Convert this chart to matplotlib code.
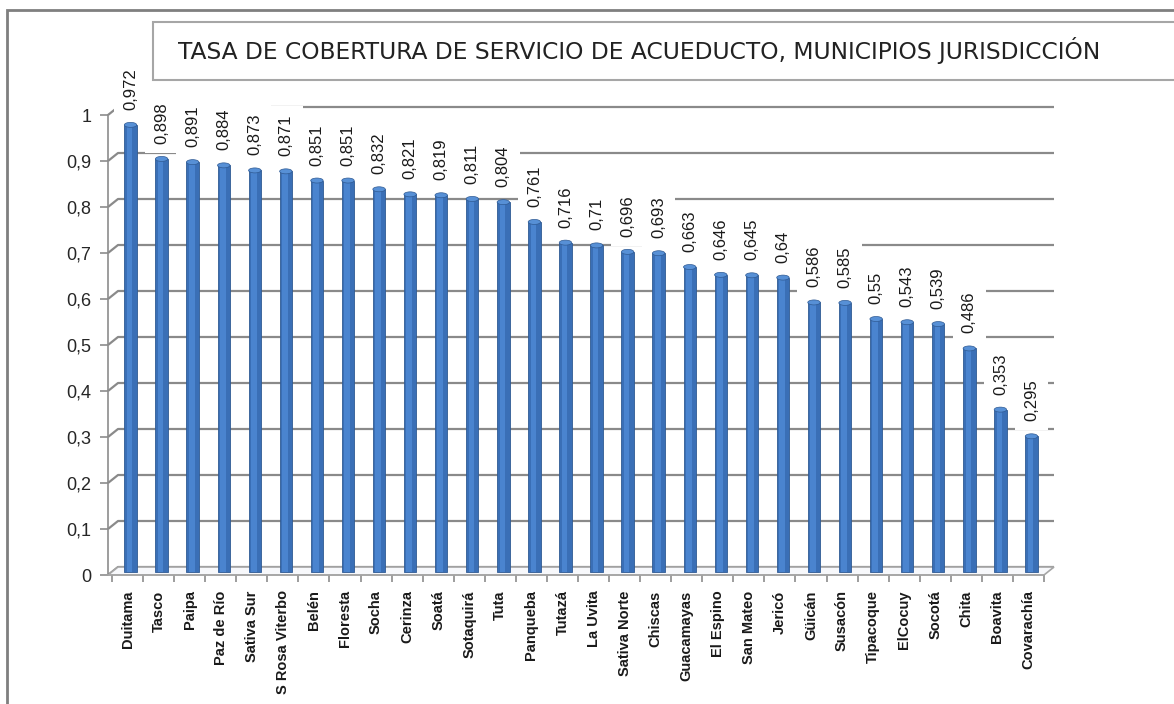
import matplotlib
matplotlib.use('Agg')
import matplotlib.pyplot as plt
from matplotlib.patches import Rectangle, Polygon, Ellipse

plt.rcParams['font.family'] = ['Liberation Sans', 'DejaVu Sans']

# Cobertura de acueducto por municipio
municipios = ['Duitama', 'Tasco', 'Paipa', 'Paz de Río', 'Sativa Sur', 'S Rosa Viterbo',
              'Belén', 'Floresta', 'Socha', 'Cerinza', 'Soatá', 'Sotaquirá', 'Tuta',
              'Panqueba', 'Tutazá', 'La Uvita', 'Sativa Norte', 'Chiscas', 'Guacamayas',
              'El Espino', 'San Mateo', 'Jericó', 'Güicán', 'Susacón', 'Tipacoque',
              'ElCocuy', 'Socotá', 'Chita', 'Boavita', 'Covarachía']
cobertura = [0.972, 0.898, 0.891, 0.884, 0.873, 0.871, 0.851, 0.851, 0.832, 0.821,
             0.819, 0.811, 0.804, 0.761, 0.716, 0.71, 0.696, 0.693, 0.663, 0.646,
             0.645, 0.64, 0.586, 0.585, 0.55, 0.543, 0.539, 0.486, 0.353, 0.295]
titulo = 'TASA DE COBERTURA DE SERVICIO DE ACUEDUCTO, MUNICIPIOS JURISDICCIÓN'

W, H = 1174, 704
fig = plt.figure(figsize=(W / 100, H / 100), dpi=100)
fig.patch.set_facecolor('white')

# Ejes: 0 en y=575 px, 1 en y=115 px
n = len(municipios)
cat_px = 31.07
x_left, x_right = 108, 1044
y0, y1 = 575, 115
ax = fig.add_axes([x_left / W, 1 - y0 / H, (x_right - x_left) / W, (y0 - y1) / H])
pad_left = (112 - x_left) / cat_px
ax.set_xlim(-0.5 - pad_left, n - 0.5)
ax.set_ylim(0, 1)
ax.set_facecolor('none')

unit_px = y0 - y1
px_x = 1 / cat_px   # un pixel en unidades de categoría
px_y = 1 / unit_px  # un pixel en unidades del eje y

# Pared trasera: desplazamiento en perspectiva
dx, dy = 10 * px_x, 8 * px_y
xa, xb = ax.get_xlim()
gris = '#8a8a8a'
for v in [i / 10 for i in range(0, 11)]:
    ax.plot([xa, xa + dx, xb + dx], [v, v + dy, v + dy], color=gris, lw=1.6,
            clip_on=False, zorder=1, solid_capstyle='butt')

# Piso
piso = Polygon([[xa, 0], [xb, 0], [xb + dx, dy], [xa + dx, dy]], closed=True,
               facecolor='#f7f8fb', edgecolor='#a6a6a6', lw=1.2, clip_on=False, zorder=1.5)
ax.add_patch(piso)

# Barras tipo cilindro
bx, by = 3 * px_x, 3 * px_y
xs = [i + bx for i in range(n)]
ax.bar(xs, cobertura, width=0.40, bottom=by, color='#3a6fb6', edgecolor='#2f5a93',
       lw=0.6, zorder=3)
ax.bar([x - 0.03 for x in xs], cobertura, width=0.18, bottom=by, color='#4a84cf',
       lw=0, zorder=3.1)
for x, v in zip(xs, cobertura):
    ax.add_patch(Ellipse((x, v + by), 0.40, 5 * px_y, facecolor='#5790d6',
                         edgecolor='#2f5a93', lw=0.5, zorder=3.2))

# Etiquetas de valor
for x, v in zip(xs, cobertura):
    ax.text(x, v + by + 15 * px_y, f'{v:g}'.replace('.', ','), rotation=90,
            ha='center', va='bottom', fontsize=12, color='#1a1a1a', zorder=4,
            bbox=dict(boxstyle='square,pad=0.55', fc='white', ec='none'))

# Ejes y marcas
for s in ['top', 'right']:
    ax.spines[s].set_visible(False)
ax.spines['left'].set_color('#8c8c8c')
ax.spines['bottom'].set_color('#a6a6a6')
ax.spines['left'].set_linewidth(1.2)
ax.spines['bottom'].set_linewidth(1.2)

ax.set_yticks([i / 10 for i in range(11)])
ax.set_yticklabels([f'{i / 10:g}'.replace('.', ',') for i in range(11)],
                   fontsize=13, color='#262626')
ax.tick_params(axis='y', length=6, width=1.2, color='#8c8c8c', pad=6)

ax.set_xticks(range(n))
ax.set_xticklabels(municipios, rotation=90, fontsize=10.5, fontweight='bold',
                   color='#1a1a1a')
ax.tick_params(axis='x', length=0, pad=11)
ax.set_xticks([i - 0.5 for i in range(n + 1)], minor=True)
ax.tick_params(axis='x', which='minor', length=5, width=1.2, color='#8c8c8c')

# Marco exterior y recuadro del título
fig.patches.append(Rectangle((7 / W, -0.1), 1.2, (H - 10) / H + 0.1, fill=False,
                             ec='#7f7f7f', lw=2, transform=fig.transFigure, figure=fig))
fig.patches.append(Rectangle((153 / W, 1 - 80 / H), 1.1, 58 / H, facecolor='white',
                             ec='#a6a6a6', lw=1.5, transform=fig.transFigure, figure=fig))
fig.text(178 / W, 1 - 51 / H, titulo, ha='left', va='center', fontsize=16.8,
         color='#222222', family='DejaVu Sans')

fig.savefig('out.png', dpi=100)
